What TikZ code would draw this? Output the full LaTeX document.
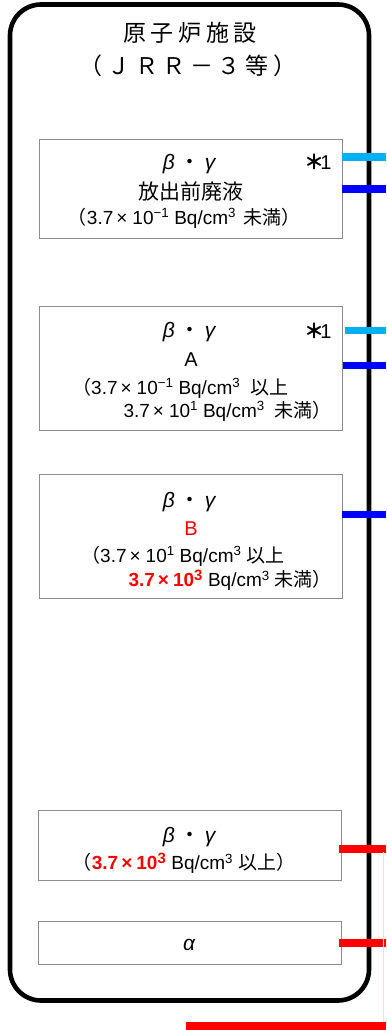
\documentclass[tikz,border=0pt]{standalone}
\usepackage{fontspec}
\setmainfont{Liberation Sans}
\newfontfamily\jp{Noto Sans CJK JP}
\newfontfamily\jpt{Noto Sans CJK JP}[LetterSpace=20]
\newfontfamily\grk{Liberation Sans}
\definecolor{boxgray}{HTML}{8C8C8C}
\definecolor{pcyan}{HTML}{00B0F0}
\definecolor{pblue}{HTML}{0000FF}
\definecolor{pred}{HTML}{FF0000}
\definecolor{faintpink}{HTML}{FBDADA}
\newcommand{\bg}{{\grk\itshape β}\hspace{5pt}{\jp ・}\hspace{4pt}{\grk\itshape γ}}
\newcommand{\supx}[1]{\textsuperscript{#1}}
\newcommand{\tms}{\hspace{3pt}×\hspace{5pt}}
\newcommand{\redv}{\textcolor{pred}{\bfseries 3.7\hspace{3pt}×\hspace{4pt}10\supx{\fontsize{15}{15}\selectfont 3}}}
\newcommand{\starone}{{\jp\bfseries ＊}\hspace{-4pt}1}
\begin{document}
\begin{tikzpicture}[x=1pt,y=-1pt,
  box/.style={draw=boxgray, line width=0.9pt, inner sep=0pt, minimum width=303pt},
  txt/.style={inner sep=0pt, anchor=center},
  bgtxt/.style={txt, font=\fontsize{21}{23}\selectfont},
  smalltxt/.style={txt, font=\fontsize{19}{21}\selectfont},
  startxt/.style={txt, font=\fontsize{20}{22}\selectfont},
  pipe/.style={line width=7.5pt}]
\useasboundingbox (0,0) rectangle (386,1030);
% outer facility frame
\node[draw, line width=4.6pt, rounded corners=31pt, minimum width=359pt, minimum height=996pt, inner sep=0pt] (frame) at (189.5,502.5) {};
\node[txt, font=\jpt\fontsize{23}{25}\selectfont] (title) at (190,33) {原子炉施設};
\node[txt, font=\jpt\fontsize{23}{25}\selectfont] (subtitle) at (188,66) {（ＪＲＲ－３等）};
% boxes
\node[box, minimum height=99pt] (b1) at (190.5,188.5) {};
\node[box, minimum height=124pt] (b2) at (191,368) {};
\node[box, minimum height=124pt] (b3) at (190.5,536) {};
\node[box, minimum height=70pt] (b4) at (189.5,845) {};
\node[box, minimum height=43pt] (b5) at (189.5,942.5) {};
% box 1 text
\node[bgtxt] (b1g) at (189,164) {\bg};
\node[startxt] (b1s) at (318,162) {\starone};
\node[txt, font=\jp\fontsize{21}{23}\selectfont] (b1n) at (191,192) {放出前廃液};
\node[smalltxt] (b1r) at (184,218) {{\jp （}3.7\tms 10\supx{−1}\hspace{5pt}Bq/cm\supx{3}\hspace{7pt}{\jp 未満）}};
% box 2 text
\node[bgtxt] (b2g) at (189,332) {\bg};
\node[startxt] (b2s) at (318,331) {\starone};
\node[txt, font=\fontsize{20}{22}\selectfont] (b2n) at (191,360) {A};
\node[smalltxt, anchor=west] (b2r1) at (72,388) {{\jp （}3.7\tms 10\supx{−1}\hspace{5pt}Bq/cm\supx{3}\hspace{10pt}{\jp 以上}};
\node[smalltxt, anchor=east] (b2r2) at (332,411) {3.7\tms 10\supx{1}\hspace{5pt}Bq/cm\supx{3}\hspace{10pt}{\jp 未満）}};
% box 3 text
\node[bgtxt] (b3g) at (189,502) {\bg};
\node[txt, font=\fontsize{20}{22}\selectfont, text=pred] (b3n) at (191,529) {B};
\node[smalltxt, anchor=west] (b3r1) at (81,556) {{\jp （}3.7\tms 10\supx{1}\hspace{5pt}Bq/cm\supx{3}\hspace{5pt}{\jp 以上}};
\node[smalltxt, anchor=east] (b3r2) at (332,580) {\redv\hspace{5pt}Bq/cm\supx{3}\hspace{5pt}{\jp 未満）}};
% box 4 text
\node[bgtxt] (b4g) at (189,837) {\bg};
\node[smalltxt] (b4r) at (184,863) {{\jp （}\redv\hspace{5pt}Bq/cm\supx{3}\hspace{5pt}{\jp 以上）}};
% box 5 text
\node[bgtxt] (b5g) at (189,945) {{\grk\itshape α}};
% pipe end points (off to the right)
\coordinate (e1c) at (386,157);
\coordinate (e1b) at (386,189);
\coordinate (e2c) at (386,330.5);
\coordinate (e2b) at (386,365.5);
\coordinate (e3b) at (386,514.5);
\coordinate (e4r) at (386,849);
\coordinate (e5r) at (386,943);
\coordinate (bl0) at (186,1026);
\coordinate (bl1) at (386,1026);
\coordinate (pk0) at (383,852);
\coordinate (pk1) at (383,1022);
% pipes
\draw[pipe, pcyan] (b1.east |- e1c) -- (e1c);
\draw[pipe, pblue] (b1.east |- e1b) -- (e1b);
\draw[pipe, pcyan] ([xshift=2pt]b2.east |- e2c) -- (e2c);
\draw[pipe, pblue] (b2.east |- e2b) -- (e2b);
\draw[pipe, pblue] (b3.east |- e3b) -- (e3b);
\draw[pipe, pred] ([xshift=-2pt]b4.east |- e4r) -- (e4r);
\draw[pipe, pred] ([xshift=-2pt]b5.east |- e5r) -- (e5r);
\draw[pipe, pred] (bl0) -- (bl1);
\draw[faintpink, line width=0.8pt] (pk0) -- (pk1);
\end{tikzpicture}
\end{document}
